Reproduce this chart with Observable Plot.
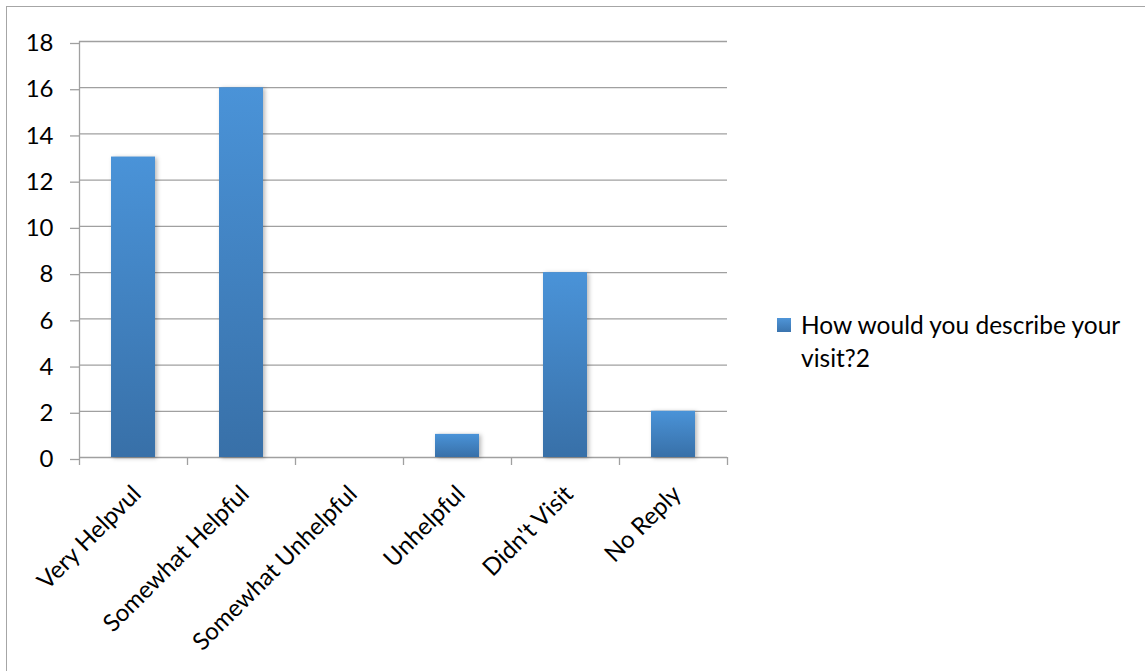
<!DOCTYPE html>
<html>
<head>
<meta charset="utf-8">
<script src="https://cdn.jsdelivr.net/npm/d3@7"></script>
<script src="https://cdn.jsdelivr.net/npm/@observablehq/plot@0.6"></script>
<style>
  html, body { margin: 0; padding: 0; background: #fff; }
  #wrap { position: relative; width: 1145px; height: 671px; overflow: hidden; background: #fff; font-family: Lato, "Open Sans", sans-serif; }
  #frame { position: absolute; left: 6px; top: 6px; width: 1200px; height: 700px; border-left: 1.5px solid #a6a6a6; border-top: 1.5px solid #a6a6a6; }
  #chart { position: absolute; left: 0; top: 0; }
  #legend { position: absolute; left: 777px; top: 318px; width: 360px; font-size: 24.5px; line-height: 33px; color: #000; }
  #legend .sw { position: absolute; left: 0; top: 0px; width: 14px; height: 14px; background: linear-gradient(#4f95d8, #3a74ae); }
  #legend .tx { margin-left: 24px; margin-top: -10px; }
</style>
</head>
<body>
<div id="wrap">
  <div id="frame"></div>
  <div id="chart"></div>
  <div id="legend"><div class="sw"></div><div class="tx" id="legendText"></div></div>
</div>
<script>
const categories = ["Very Helpvul", "Somewhat Helpful", "Somewhat Unhelpful", "Unhelpful", "Didn't Visit", "No Reply"];
const values = [13, 16, 0, 1, 8, 2];
const yTicks = [0, 2, 4, 6, 8, 10, 12, 14, 16, 18];
const seriesName = "How would you describe your visit?2";

const data = categories.map((c, i) => ({category: c, index: i, value: values[i]}));
const boundaries = d3.range(categories.length + 1);

const gridColor = "#a0a0a0";

const svg = Plot.plot({
  width: 1145,
  height: 671,
  marginLeft: 79,
  marginRight: 418,
  marginTop: 41,
  marginBottom: 214,
  style: {fontFamily: "Lato, 'Open Sans', sans-serif", fontSize: "24px", color: "#000", background: "transparent", overflow: "visible"},
  x: {domain: [0, categories.length], axis: null},
  y: {domain: [0, 18], axis: null},
  marks: [
    Plot.gridY(yTicks, {stroke: gridColor, strokeOpacity: 1, strokeWidth: 1.3}),
    Plot.axisY(yTicks, {tickSize: 9, tickPadding: 17, stroke: gridColor, strokeWidth: 1.3, fill: "#000", fontSize: 24, dy: 2, label: null}),
    Plot.ruleX([0], {stroke: gridColor, strokeWidth: 1.3}),
    Plot.axisX(boundaries, {tickSize: 8, tickFormat: () => "", stroke: gridColor, strokeWidth: 1.3, label: null}),
    Plot.rectY(data, {x1: "index", x2: d => d.index + 1, y: "value", insetLeft: 32, insetRight: 32, fill: "url(#barGrad)"}),
    Plot.text(data, {x: d => d.index + 0.5, y: () => 0, text: "category", rotate: -45, textAnchor: "end", lineAnchor: "top", dx: -3, dy: 26, fontSize: 24, fill: "#000"})
  ]
});

d3.select(svg).insert("defs", ":first-child").html(
  `<linearGradient id="barGrad" x1="0" y1="0" x2="0" y2="1">
     <stop offset="0" stop-color="#4a93d8"/>
     <stop offset="1" stop-color="#3870a8"/>
   </linearGradient>`
);
d3.select(svg).selectAll("g[aria-label=rect] rect").style("filter", "drop-shadow(2px 1px 2px rgba(0,0,0,0.28))");

document.getElementById("chart").appendChild(svg);
document.getElementById("legendText").textContent = seriesName;
</script>
</body>
</html>
